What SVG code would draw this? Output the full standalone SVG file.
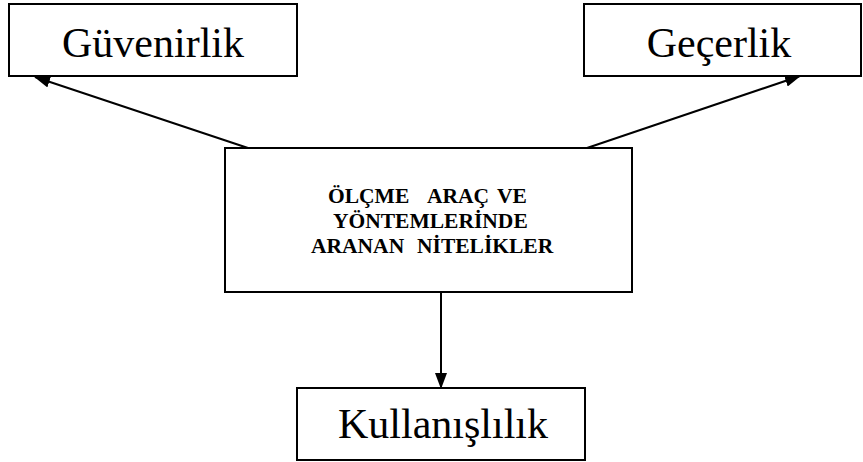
<svg xmlns="http://www.w3.org/2000/svg" width="863" height="462" viewBox="0 0 863 462">
<style>
.box{fill:#fff;stroke:#000;stroke-width:2}
.t{font-family:"Liberation Serif","Times New Roman",serif;font-size:42px;fill:#000;text-anchor:middle}
.c{font-family:"Liberation Serif","Times New Roman",serif;font-size:21.5px;font-weight:bold;fill:#000}
.ln{stroke:#000;stroke-width:2;fill:none;marker-end:url(#ah)}
</style>
<defs>
<marker id="ah" markerWidth="16" markerHeight="12" refX="15" refY="6" orient="auto" markerUnits="userSpaceOnUse">
<path d="M0,0 L16,6 L0,12 Z" fill="#000"/>
</marker>
</defs>
<rect width="863" height="462" fill="#fff"/>
<g id="connectors">
<line class="ln" x1="248" y1="148" x2="35" y2="77"/>
<line class="ln" x1="587" y1="148" x2="800" y2="76"/>
<line class="ln" x1="441" y1="292" x2="441" y2="388"/>
</g>
<g id="guvenirlik">
<rect class="box" x="9" y="4" width="288" height="72"/>
<text class="t" x="153" y="57">Güvenirlik</text>
</g>
<g id="gecerlik">
<rect class="box" x="584" y="4" width="277" height="72"/>
<text class="t" x="719" y="57">Geçerlik</text>
</g>
<g id="merkez">
<rect class="box" x="225" y="148" width="407" height="144"/>
<text class="c" y="203"><tspan x="328">ÖLÇME</tspan><tspan x="427">ARAÇ</tspan><tspan x="497">VE</tspan></text>
<text class="c" x="333" y="228">YÖNTEMLERİNDE</text>
<text class="c" y="253"><tspan x="311">ARANAN</tspan><tspan x="417">NİTELİKLER</tspan></text>
</g>
<g id="kullanislilik">
<rect class="box" x="297" y="388" width="288" height="72"/>
<text class="t" x="443" y="438">Kullanışlılık</text>
</g>
</svg>
